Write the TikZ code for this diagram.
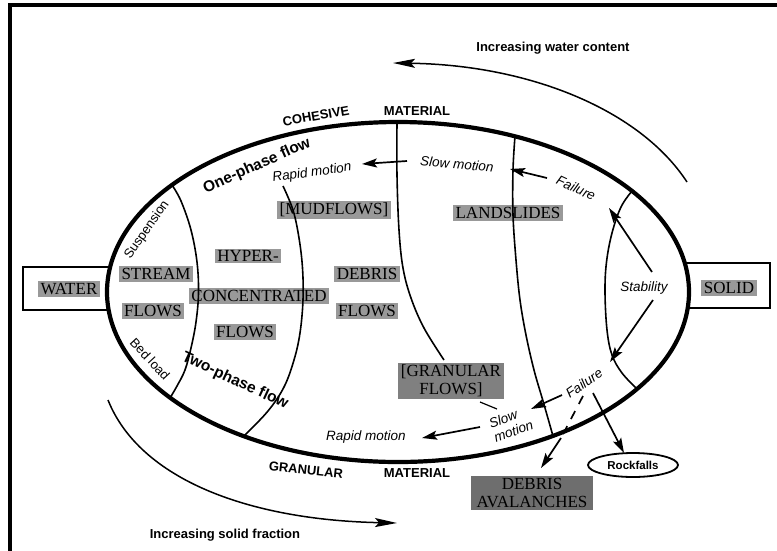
\documentclass[tikz,border=0pt]{standalone}
\usepackage{fontspec}
\setmainfont{Liberation Serif}
\newfontfamily\lsans{Liberation Sans}
\usetikzlibrary{shapes.geometric,arrows.meta}

\begin{document}
\begin{tikzpicture}[x=1pt,y=-1pt,
  tag/.style={fill=black!40, font=\fontsize{17}{17}\selectfont, inner xsep=2.5pt, inner ysep=1.8pt},
  darktag/.style={tag, fill=black!50, align=center, font=\fontsize{17}{18}\selectfont, inner xsep=3pt},
  caplbl/.style={font=\lsans\bfseries\fontsize{13}{13}\selectfont, inner sep=0pt},
  note/.style={font=\lsans\itshape\fontsize{13.5}{15}\selectfont, inner sep=0pt},
  phase/.style={font=\lsans\bfseries\fontsize{15.5}{15.5}\selectfont, inner sep=0pt},
  regime/.style={font=\lsans\fontsize{13}{13}\selectfont, inner sep=0pt},
  bound/.style={line width=1.6pt},
  flow/.style={line width=1.7pt, -{Stealth[length=15pt,width=9pt,inset=3pt]}},
  trend/.style={line width=1.5pt, -{Stealth[length=22pt,width=9pt,inset=4pt]}},
  endbox/.style={draw, line width=2.5pt}
]
\useasboundingbox (0,0) rectangle (777,550);

% outer frame
\draw[line width=4pt] (9.5,560) -- (9.5,5) -- (790,5);

% end-member boxes
\draw[endbox] (23,267) rectangle (112,310);
\draw[endbox] (686,263) rectangle (770,308);

% main field
\draw[line width=4.2pt, fill=white] (398,292) ellipse [x radius=291pt, y radius=170pt];

% trend arrows
\coordinate (wcs) at (687,182);
\coordinate (wce) at (393,63);
\draw[trend] (wcs) .. controls (640,110) and (530,65) .. (wce);
\coordinate (sfs) at (108,400);
\coordinate (sfe) at (397,523);
\draw[trend] (sfs) .. controls (140,480) and (250,520) .. (sfe);

% shaded flow-type labels
\node[tag] (water) at (69,289) {WATER};
\node[tag] (solid) at (729,288) {SOLID};
\node[tag] (stream) at (156,274) {STREAM};
\node[tag] (streamfl) at (153,311) {FLOWS};
\node[tag] (hyper) at (248,256) {HYPER-};
\node[tag] (conc) at (259,296) {CONCENTRATED};
\node[tag] (hyperfl) at (245,332) {FLOWS};
\node[tag] (mud) at (334,210) {[MUDFLOWS]};
\node[tag] (debris) at (367,274) {DEBRIS};
\node[tag] (debrisfl) at (367,311) {FLOWS};
\node[tag] (land) at (508,213) {LANDSLIDES};
\node[darktag] (gran) at (451,381) {[GRANULAR\\FLOWS]};
\node[darktag, fill=black!57, inner xsep=6pt] (aval) at (532,493) {DEBRIS\\AVALANCHES};

% regime boundaries
\draw[bound] plot[smooth, tension=0.6] coordinates {(172,185) (181,201) (191,230) (197,262) (198.5,293) (196,322) (191,348) (185,370) (177,386) (170,398)};
\draw[bound] plot[smooth, tension=0.6] coordinates {(283,186) (293,210) (299,238) (302.5,268) (303,300) (300,333) (294,360) (284,387) (268,411) (244,436)};
\draw[bound] plot[smooth, tension=0.6] coordinates {(397,122) (397,175) (399,230) (403,268) (411,298) (424,328) (444,360)};
\draw[bound] plot[smooth, tension=0.6] coordinates {(515,136) (513,170) (513,215) (516,260) (520,300) (526,335) (534,370) (543,401) (553,436)};
\draw[bound] plot[smooth, tension=0.6] coordinates {(632,191) (621,207) (612,233) (606.5,262) (605,292) (607,330) (612,355) (622,373) (637,389)};

% material labels
\node[caplbl, rotate=10] (coh) at (316,116) {COHESIVE};
\node[caplbl] (mattop) at (417,111) {MATERIAL};
\node[caplbl, rotate=-6] (granlbl) at (306,470) {GRANULAR};
\node[caplbl] (matbot) at (417,473) {MATERIAL};
\node[caplbl] (iwc) at (553,48) {Increasing water content};
\node[caplbl] (isf) at (225,535) {Increasing solid fraction};

% phase and transport labels
\node[phase, rotate=24] (one) at (257,166) {One-phase flow};
\node[phase, rotate=-25] (two) at (235,381) {Two-phase flow};
\node[regime, rotate=55] (susp) at (147,230) {Suspension};
\node[regime, rotate=-47] (bed) at (150,359) {Bed load};

% motion labels
\node[note, rotate=8] (rapidtop) at (312,173) {Rapid motion};
\node[note, rotate=-5] (slowtop) at (457,164) {Slow motion};
\node[note, rotate=-25] (failtop) at (576,188) {Failure};
\node[note] (stab) at (644,288) {Stability};
\node[note, rotate=35] (failbot) at (584,383) {Failure};
\node[note, rotate=20, align=left] (slowbot) at (511,424) {Slow\\motion};
\node[note] (rapidbot) at (366,437) {Rapid motion};

\node[draw, ellipse, line width=1.8pt, minimum width=90pt, minimum height=24pt, inner sep=0pt,
      font=\lsans\bfseries\fontsize{11.5}{12}\selectfont] (rock) at (633,465) {Rockfalls};

% motion arrows
\coordinate (a1s) at (407,161);  \coordinate (a1e) at (362,164);
\coordinate (a2s) at (547,178);  \coordinate (a2e) at (510,169);
\coordinate (a3s) at (652,272);  \coordinate (a3e) at (609,208);
\coordinate (a4s) at (653,300);  \coordinate (a4e) at (610,362);
\coordinate (a5s) at (562,395);  \coordinate (a5e) at (531,409);
\coordinate (a6s) at (480,427);  \coordinate (a6e) at (422,438);
\coordinate (a7s) at (583,396);  \coordinate (a7m) at (561,438);  \coordinate (a7e) at (541,468);
\coordinate (a8s) at (593,393);  \coordinate (a8e) at (624,453);
\coordinate (gs) at (480,402);   \coordinate (ge) at (497,409);

\draw[flow] (a1s) -- (a1e);
\draw[flow] (a2s) -- (a2e);
\draw[flow] (a3s) -- (a3e);
\draw[flow] (a4s) -- (a4e);
\draw[flow] (a5s) -- (a5e);
\draw[flow] (a6s) -- (a6e);
\draw[line width=1.7pt, dash pattern=on 9pt off 8pt] (a7s) -- (a7m);
\draw[flow] (a7m) -- (a7e);
\draw[flow] (a8s) -- (a8e);
\draw[line width=1.2pt] (gs) -- (ge);
\end{tikzpicture}
\end{document}
